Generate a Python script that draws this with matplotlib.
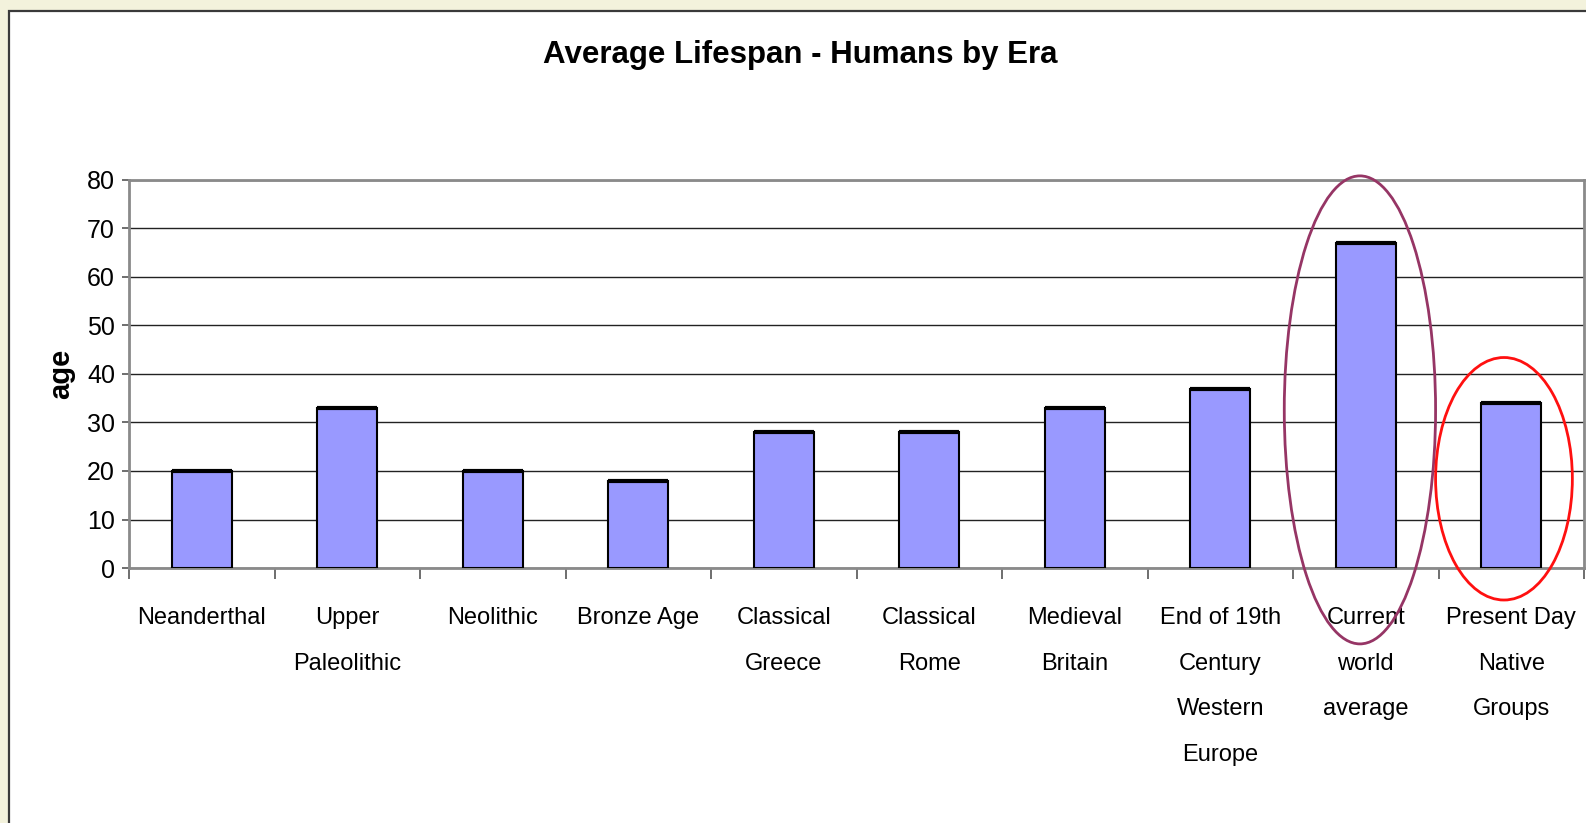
import matplotlib.pyplot as plt
from matplotlib.patches import Ellipse, Rectangle
import numpy as np

# Average lifespan by era
eras = ["Neanderthal", "Upper\nPaleolithic", "Neolithic", "Bronze Age",
        "Classical\nGreece", "Classical\nRome", "Medieval\nBritain",
        "End of 19th\nCentury\nWestern\nEurope", "Current\nworld\naverage",
        "Present Day\nNative\nGroups"]
ages = [20, 33, 20, 18, 28, 28, 33, 37, 67, 34]
y_ticks = [0, 10, 20, 30, 40, 50, 60, 70, 80]

plt.rcParams['font.family'] = ['Liberation Sans', 'DejaVu Sans']

fig = plt.figure(figsize=(15.86, 8.23), dpi=100)
fig.patch.set_facecolor('#F3F2DC')

# white chart area with dark frame
fig.patches.append(Rectangle((8.5 / 1586, -0.1), 1.2, 1 - 10.5 / 823 + 0.1,
                             transform=fig.transFigure, facecolor='white',
                             edgecolor='#3a3a3a', linewidth=1.6, zorder=-1))

ax = fig.add_axes([129 / 1586, 1 - 568 / 823, 1455 / 1586, 388 / 823])
ax.set_facecolor('white')

x = np.arange(len(eras))
bar_w = 0.41
ax.bar(x, ages, width=bar_w, color='#9999FF', edgecolor='black', linewidth=1.5, zorder=3)
ax.hlines(ages, x - bar_w / 2, x + bar_w / 2, colors='black', linewidth=3, zorder=4)

ax.set_xlim(-0.5, len(eras) - 0.5)
ax.set_ylim(0, 80)
ax.set_yticks(y_ticks)
ax.yaxis.grid(True, color='#222222', linewidth=1, zorder=1)
ax.set_axisbelow(True)

for s in ax.spines.values():
    s.set_color('#8a8a8a')
    s.set_linewidth(2)

ax.set_xticks(x)
ax.set_xticklabels(eras, fontsize=17, linespacing=2.4, va='top')
ax.set_xticks(np.arange(-0.5, len(eras)), minor=True)
ax.tick_params(axis='x', which='major', length=0, pad=28)
ax.tick_params(axis='x', which='minor', length=8, width=1.2, color='#555555', direction='out')
ax.tick_params(axis='y', length=5, width=1.2, color='#555555', labelsize=18, pad=5)

# circled bars
ax.add_patch(Ellipse((7.96, 32.6), 1.04, 96.5, fill=False, edgecolor='#963565',
                     linewidth=2, clip_on=False, zorder=5))
ax.add_patch(Ellipse((8.95, 18.4), 0.94, 50, fill=False, edgecolor='#FF1010',
                     linewidth=2, clip_on=False, zorder=5))

fig.text(800 / 1586, 1 - 55 / 823, "Average Lifespan - Humans by Era",
         ha='center', va='center', fontsize=22.5, fontweight='bold')
fig.text(61 / 1586, 1 - 374 / 823, "age", rotation=90, ha='center', va='center',
         fontsize=21, fontweight='bold')

fig.savefig('out.png', dpi=100, facecolor=fig.get_facecolor())
